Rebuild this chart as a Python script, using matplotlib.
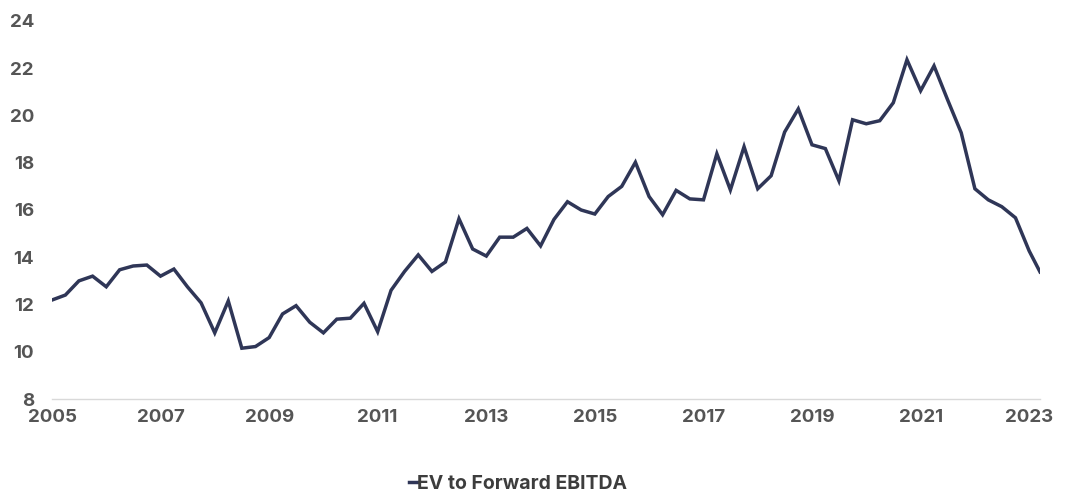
import matplotlib
matplotlib.use("Agg")
import matplotlib.pyplot as plt
import matplotlib.dates as mdates
import pandas as pd

# quarterly observations, 2005 Q1 .. 2023 Q1, plus a final mid-Q1 2023 reading
DATES = list(pd.date_range("2005-01-01", "2023-01-01", freq="QS")) + [pd.Timestamp("2023-03-15")]
EV_FWD_EBITDA = [
    12.19, 12.4, 13.0, 13.2, 12.75, 13.47, 13.63, 13.67,
    13.2, 13.5, 12.75, 12.07, 10.8, 12.15, 10.15, 10.22,
    10.6, 11.6, 11.95, 11.25, 10.8, 11.38, 11.42, 12.05,
    10.85, 12.6, 13.4, 14.1, 13.4, 13.8, 15.63, 14.35,
    14.05, 14.85, 14.85, 15.22, 14.48, 15.6, 16.35, 16.0,
    15.83, 16.57, 17.0, 18.02, 16.57, 15.8, 16.83, 16.47,
    16.43, 18.38, 16.85, 18.68, 16.9, 17.45, 19.3, 20.28,
    18.76, 18.6, 17.24, 19.82, 19.65, 19.78, 20.54, 22.36,
    21.05, 22.1, 20.67, 19.27, 16.9, 16.43, 16.14, 15.67,
    14.27, 13.38,
]
SERIES_LABEL = "EV to Forward EBITDA"
Y_TICKS = [8, 10, 12, 14, 16, 18, 20, 22, 24]
X_TICK_YEARS = [2005, 2007, 2009, 2011, 2013, 2015, 2017, 2019, 2021, 2023]

LINE_COLOR = "#2f3657"
TICK_COLOR = "#555555"

plt.rcParams["font.family"] = ["Inter", "DejaVu Sans"]

fig = plt.figure(figsize=(10.68, 4.94), dpi=100)
ax = fig.add_axes([52 / 1068, 95 / 494, 988 / 1068, 378 / 494])

ax.plot(DATES, EV_FWD_EBITDA, color=LINE_COLOR, linewidth=2.5, label=SERIES_LABEL,
        solid_joinstyle="miter")

ax.set_ylim(8, 24)
ax.set_yticks(Y_TICKS)
ax.set_xlim(DATES[0], DATES[-1])
ax.set_xticks([pd.Timestamp(f"{y}-01-01") for y in X_TICK_YEARS])
ax.xaxis.set_major_formatter(mdates.DateFormatter("%Y"))

for side in ["top", "right", "left"]:
    ax.spines[side].set_visible(False)
ax.spines["bottom"].set_color("#d9d9d9")
ax.spines["bottom"].set_linewidth(1)

ax.tick_params(axis="both", length=0, labelcolor=TICK_COLOR, labelsize=13.5)
ax.tick_params(axis="y", pad=13)
ax.tick_params(axis="x", pad=7)
for lbl in ax.get_xticklabels() + ax.get_yticklabels():
    lbl.set_fontweight("bold")

leg = fig.legend(loc="center", bbox_to_anchor=(518 / 1068, 1 - 484 / 494), frameon=False,
                 handlelength=0.4, handletextpad=0.0, prop={"weight": "bold", "size": 14})
for t in leg.get_texts():
    t.set_color("#3d3d3d")

fig.savefig("out.png", dpi=100)
